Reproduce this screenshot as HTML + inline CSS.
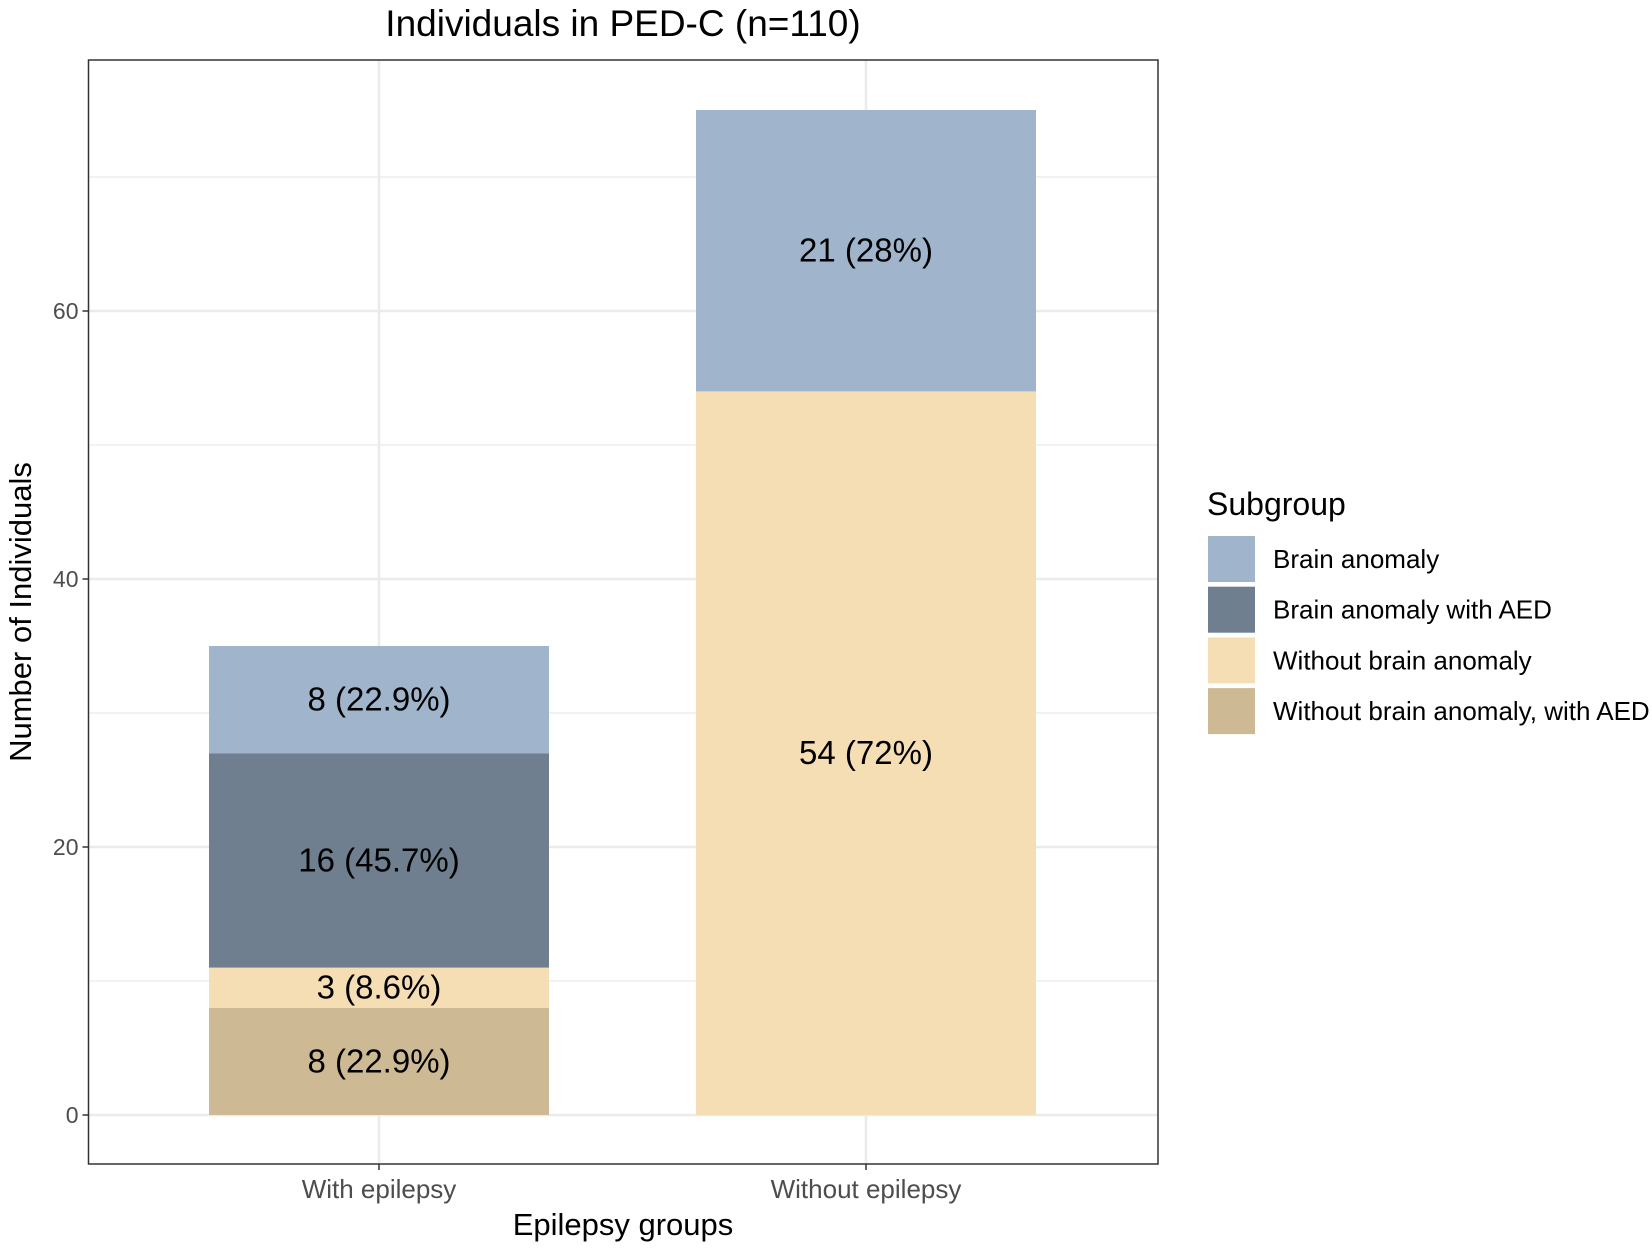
<!DOCTYPE html>
<html><head><meta charset="utf-8"><style>
body{margin:0;background:#fff}
svg text{font-family:"Liberation Sans",Arial,sans-serif}
</style></head><body>
<svg id="chart" width="1652" height="1247" viewBox="0 0 1652 1247" xmlns="http://www.w3.org/2000/svg">
<rect x="0" y="0" width="1652" height="1247" fill="#fff"/>
<text x="623" y="36" font-size="37" text-anchor="middle" fill="#000">Individuals in PED-C (n=110)</text>
<g id="grid"></g>
<g id="bars"></g>
<rect x="88.5" y="60" width="1069.5" height="1104" fill="none" stroke="#333" stroke-width="1.5"/>
<g id="axes"></g>
<text transform="translate(31,612) rotate(-90)" font-size="31" text-anchor="middle" fill="#000">Number of Individuals</text>
<text x="623" y="1235" font-size="31" text-anchor="middle" fill="#000">Epilepsy groups</text>
<g id="legend">
<text x="1207" y="515" font-size="32" fill="#000">Subgroup</text>
</g>
</svg>
<script>
const categories = ["With epilepsy", "Without epilepsy"];
const subgroups = ["Without brain anomaly, with AED", "Without brain anomaly", "Brain anomaly with AED", "Brain anomaly"];
const withEpilepsy = [8, 3, 16, 8];
const withoutEpilepsy = [0, 54, 0, 21];
const labelsWith = ["8 (22.9%)", "3 (8.6%)", "16 (45.7%)", "8 (22.9%)"];
const labelsWithout = ["", "54 (72%)", "", "21 (28%)"];
const yTicks = [0, 20, 40, 60];
const yMinor = [10, 30, 50, 70];
const legendOrder = ["Brain anomaly", "Brain anomaly with AED", "Without brain anomaly", "Without brain anomaly, with AED"];

const colors = {"Brain anomaly":"#a0b5cc","Brain anomaly with AED":"#6f7f8f","Without brain anomaly":"#f5deb3","Without brain anomaly, with AED":"#cdba95"};
const NS = "http://www.w3.org/2000/svg";
const X0 = 88.5, X1 = 1158, Y0 = 60, Y1 = 1164;
const yBase = 1115, yPer = (1115 - 311) / 60;
function y(v){ return yBase - v * yPer; }
const xCenter0 = 379, xStep = 487, barW = 340;
function x(i){ return xCenter0 + i * xStep; }
function mk(tag, attrs, parent){ const e = document.createElementNS(NS, tag); for (const k in attrs) e.setAttribute(k, attrs[k]); parent.appendChild(e); return e; }

const grid = document.getElementById('grid');
yMinor.forEach(v => { const l = mk('line', {x1:X0, x2:X1, y1:y(v), y2:y(v), stroke:'#ebebeb', 'stroke-width':1.3}, grid);
  
   });
yTicks.forEach(v => { const l = mk('line', {x1:X0, x2:X1, y1:y(v), y2:y(v), stroke:'#ebebeb', 'stroke-width':2.6}, grid);
  
   });
categories.forEach((c, i) => { const l = mk('line', {x1:x(i), x2:x(i), y1:Y0, y2:Y1, stroke:'#ebebeb', 'stroke-width':2.6}, grid);
  
   });

const bars = document.getElementById('bars');
const series = [withEpilepsy, withoutEpilepsy];
const labs = [labelsWith, labelsWithout];
series.forEach((vals, i) => {
  let cum = 0;
  vals.forEach((v, j) => {
    if (v <= 0) return;
    const r = mk('rect', {x:x(i) - barW/2, y:y(cum + v), width:barW, height:y(cum) - y(cum + v), fill:colors[subgroups[j]]}, bars);
    
    
    if (labs[i][j]) {
      const t = mk('text', {x:x(i), y:y(cum + v/2) + 11, 'font-size':33, 'text-anchor':'middle', fill:'#000'}, bars);
      t.textContent = labs[i][j];
      
      
    }
    cum += v;
  });
});

const axes = document.getElementById('axes');
yTicks.forEach(v => {
  const tk = mk('line', {x1:X0 - 6, x2:X0, y1:y(v), y2:y(v), stroke:'#333', 'stroke-width':1.5}, axes);
  
  
  const t = mk('text', {x:X0 - 10, y:y(v) + 8, 'font-size':23, 'text-anchor':'end', fill:'#4d4d4d'}, axes);
  t.textContent = v;
  
  
});
categories.forEach((c, i) => {
  const tk = mk('line', {x1:x(i), x2:x(i), y1:Y1, y2:Y1 + 6, stroke:'#333', 'stroke-width':1.5}, axes);
  
  
  const t = mk('text', {x:x(i), y:1198, 'font-size':26, 'text-anchor':'middle', fill:'#4d4d4d'}, axes);
  t.textContent = c;
  
  
});

const legend = document.getElementById('legend');
legendOrder.forEach((s, k) => {
  const top = 536 + k * 50.7;
  const r = mk('rect', {x:1208, y:top, width:47, height:46, fill:colors[s]}, legend);
  
  
  const t = mk('text', {x:1273, y:top + 32, 'font-size':26, fill:'#000'}, legend);
  t.textContent = s;
  
  
});
</script>
</body></html>
